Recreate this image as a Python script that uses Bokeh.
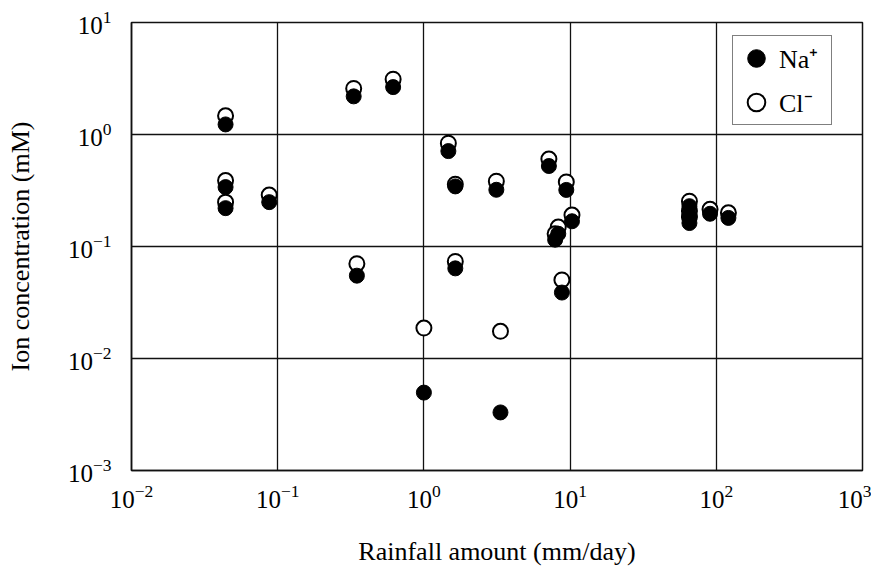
from bokeh.plotting import figure
from bokeh.models import Legend, LegendItem, Range1d
from bokeh.embed import file_html
from bokeh.resources import INLINE

# Rainfall amount (mm/day) and ion concentrations (mM)
rainfall = [0.044, 0.044, 0.044, 0.0875, 0.331, 0.616, 0.348, 1.47, 1.64, 1.64,
            3.13, 7.16, 9.42, 10.3, 8.3, 7.9, 8.79, 1.0, 3.34, 65.5, 65.5, 65.5,
            90.6, 121.0]
na_conc = [1.23, 0.339, 0.220, 0.249, 2.19, 2.65, 0.0549, 0.711, 0.344, 0.0638,
           0.321, 0.523, 0.320, 0.168, 0.130, 0.115, 0.0388, 0.00496, 0.0033,
           0.229, 0.187, 0.162, 0.196, 0.180]
cl_conc = [1.47, 0.388, 0.249, 0.288, 2.58, 3.12, 0.0702, 0.837, 0.360, 0.0736,
           0.383, 0.604, 0.377, 0.191, 0.149, 0.130, 0.0503, 0.0187, 0.0175,
           0.254, 0.207, 0.183, 0.215, 0.200]

FONT = "Liberation Serif"

p = figure(width=871, height=581, x_axis_type="log", y_axis_type="log",
           x_range=Range1d(0.01, 1000), y_range=Range1d(0.001, 10),
           output_backend="svg", toolbar_location=None,
           min_border_left=131, min_border_right=9, min_border_top=22,
           min_border_bottom=111)
p.background_fill_color = "white"
p.border_fill_color = "white"
p.outline_line_color = "#111111"
p.outline_line_width = 1.5

for ax in (p.xaxis[0], p.yaxis[0]):
    ax.major_tick_line_color = None
    ax.minor_tick_line_color = None
    ax.axis_line_color = "#111111"
    ax.axis_line_width = 1.5
    ax.major_label_text_font = FONT
    ax.major_label_text_font_size = "25px"
    ax.major_label_text_color = "black"
    ax.axis_label_text_font = FONT
    ax.axis_label_text_font_size = "26px"
    ax.axis_label_text_font_style = "normal"
    ax.axis_label_text_color = "black"

p.xaxis.axis_label = "Rainfall amount (mm/day)"
p.yaxis.axis_label = "Ion concentration (mM)"
p.xaxis.major_label_standoff = 8
p.yaxis.major_label_standoff = 14
p.xaxis.axis_label_standoff = 26
p.yaxis.axis_label_standoff = 30

for g in (p.xgrid[0], p.ygrid[0]):
    g.grid_line_color = "#111111"
    g.grid_line_width = 1.3
    g.minor_grid_line_color = None

cl = p.scatter(rainfall, cl_conc, marker="circle", size=15,
               fill_color="white", line_color="black", line_width=2)
na = p.scatter(rainfall, na_conc, marker="circle", size=15,
               fill_color="black", line_color="black", line_width=1)

legend = Legend(items=[LegendItem(label="Na\u207a", renderers=[na]),
                       LegendItem(label="Cl\u207b", renderers=[cl])],
                location=(601, 345), orientation="vertical")
legend.label_text_font = FONT
legend.label_text_font_size = "26px"
legend.label_text_color = "black"
legend.border_line_color = "black"
legend.border_line_width = 1.5
legend.background_fill_alpha = 1.0
legend.glyph_width = 46
legend.glyph_height = 44
legend.label_height = 44
legend.label_width = 52
legend.label_standoff = -12
legend.spacing = 0
legend.padding = 0
legend.margin = 0
p.add_layout(legend, "center")

open("out.html", "w").write(file_html(p, INLINE))
